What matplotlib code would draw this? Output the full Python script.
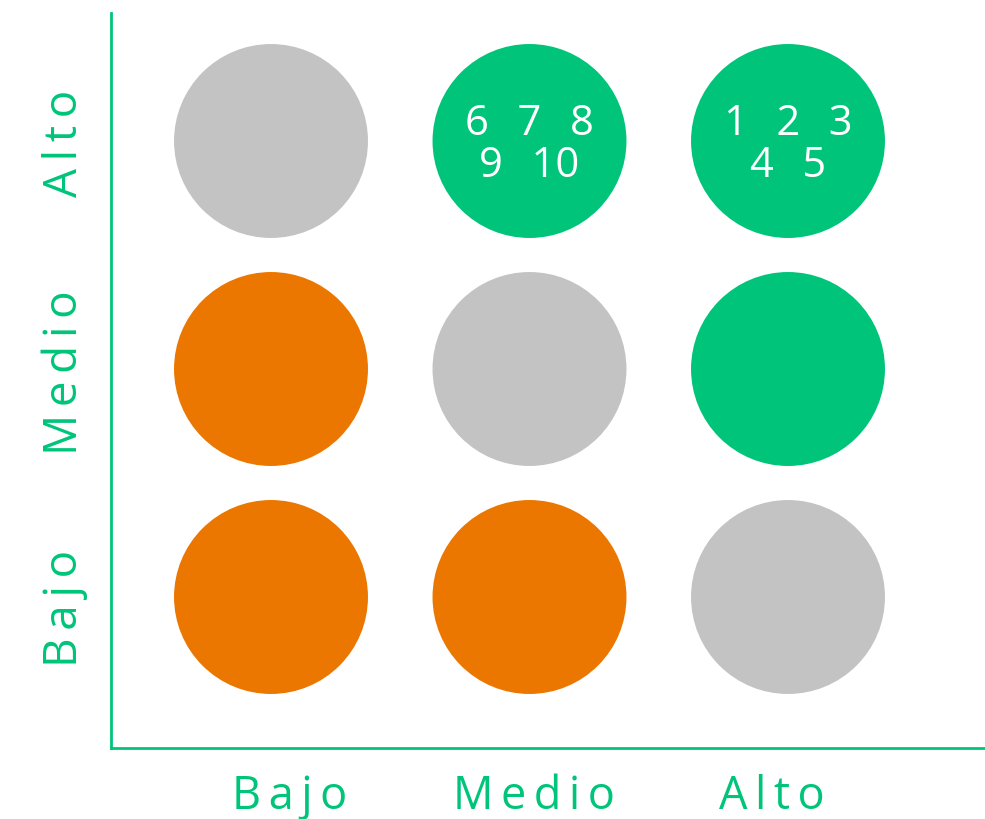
import matplotlib
matplotlib.use('Agg')
import matplotlib.pyplot as plt
from matplotlib import rcParams
from matplotlib.transforms import blended_transform_factory

rcParams['font.family'] = ['Open Sans', 'DejaVu Sans']

# niveles de los ejes
niveles = ['Bajo', 'Medio', 'Alto']

# color de cada celda (fila = eje y, columna = eje x)
colores_celdas = [
    ['naranja', 'naranja', 'gris'],    # y = Bajo
    ['naranja', 'gris', 'verde'],      # y = Medio
    ['gris', 'verde', 'verde'],        # y = Alto
]

# elementos numerados y su posicion (indice x, indice y)
elementos = [1, 2, 3, 4, 5, 6, 7, 8, 9, 10]
elem_x = [2, 2, 2, 2, 2, 1, 1, 1, 1, 1]
elem_y = [2, 2, 2, 2, 2, 2, 2, 2, 2, 2]

PALETA = {'verde': '#00C47A', 'naranja': '#EC7700', 'gris': '#C3C3C3'}
VERDE = PALETA['verde']


def texto_celda(nums):
    """Arma el texto de una celda: tres numeros por linea"""
    sep = '  \u2009'
    lineas = []
    for i in range(0, len(nums), 3):
        lineas.append(sep.join(str(n) for n in nums[i:i + 3]))
    return '\n'.join(lineas)


def espaciar(txt):
    return '\u2009'.join(txt)


def main():
    fig = plt.figure(figsize=(9.85, 8.19), dpi=100)
    ax = fig.add_axes([111 / 985, 71 / 819, 874 / 985, 735 / 819])

    # circulos
    xs, ys, cs = [], [], []
    for iy, fila in enumerate(colores_celdas):
        for ix, c in enumerate(fila):
            xs.append(ix)
            ys.append(iy)
            cs.append(PALETA[c])
    ax.scatter(xs, ys, s=19500, c=cs, linewidths=0, zorder=2)

    # numeros dentro de los circulos
    celdas = {}
    for n, x, y in zip(elementos, elem_x, elem_y):
        celdas.setdefault((x, y), []).append(n)
    for (x, y), nums in celdas.items():
        ax.text(x, y - 0.018, texto_celda(nums), ha='center', va='center',
                fontsize=30, color='white', linespacing=1.0, zorder=3)

    ax.set_xlim(-160 / 258.5, 714 / 258.5)
    ax.set_ylim(-151 / 228, 584 / 228)

    # ejes
    for lado in ['top', 'right']:
        ax.spines[lado].set_visible(False)
    for lado in ['left', 'bottom']:
        ax.spines[lado].set_color(VERDE)
        ax.spines[lado].set_linewidth(2)
    ax.set_xticks([])
    ax.set_yticks([])

    # etiquetas del eje x
    tx = blended_transform_factory(ax.transData, fig.transFigure)
    desp_x = [0.073, 0.017, -0.062]
    for i, nombre in enumerate(niveles):
        ax.text(i + desp_x[i], 1 - 809 / 819, espaciar(nombre), transform=tx,
                ha='center', va='baseline', fontsize=32.5, color=VERDE)

    # etiquetas del eje y
    ty = blended_transform_factory(fig.transFigure, ax.transData)
    desp_y = [-0.048, -0.018, -0.012]
    for i, nombre in enumerate(niveles):
        ax.text(77 / 985, i + desp_y[i], espaciar(nombre), transform=ty,
                rotation=90, rotation_mode='anchor', ha='center', va='baseline',
                fontsize=33, color=VERDE)

    fig.savefig('out.png', dpi=100)


if __name__ == '__main__':
    main()
